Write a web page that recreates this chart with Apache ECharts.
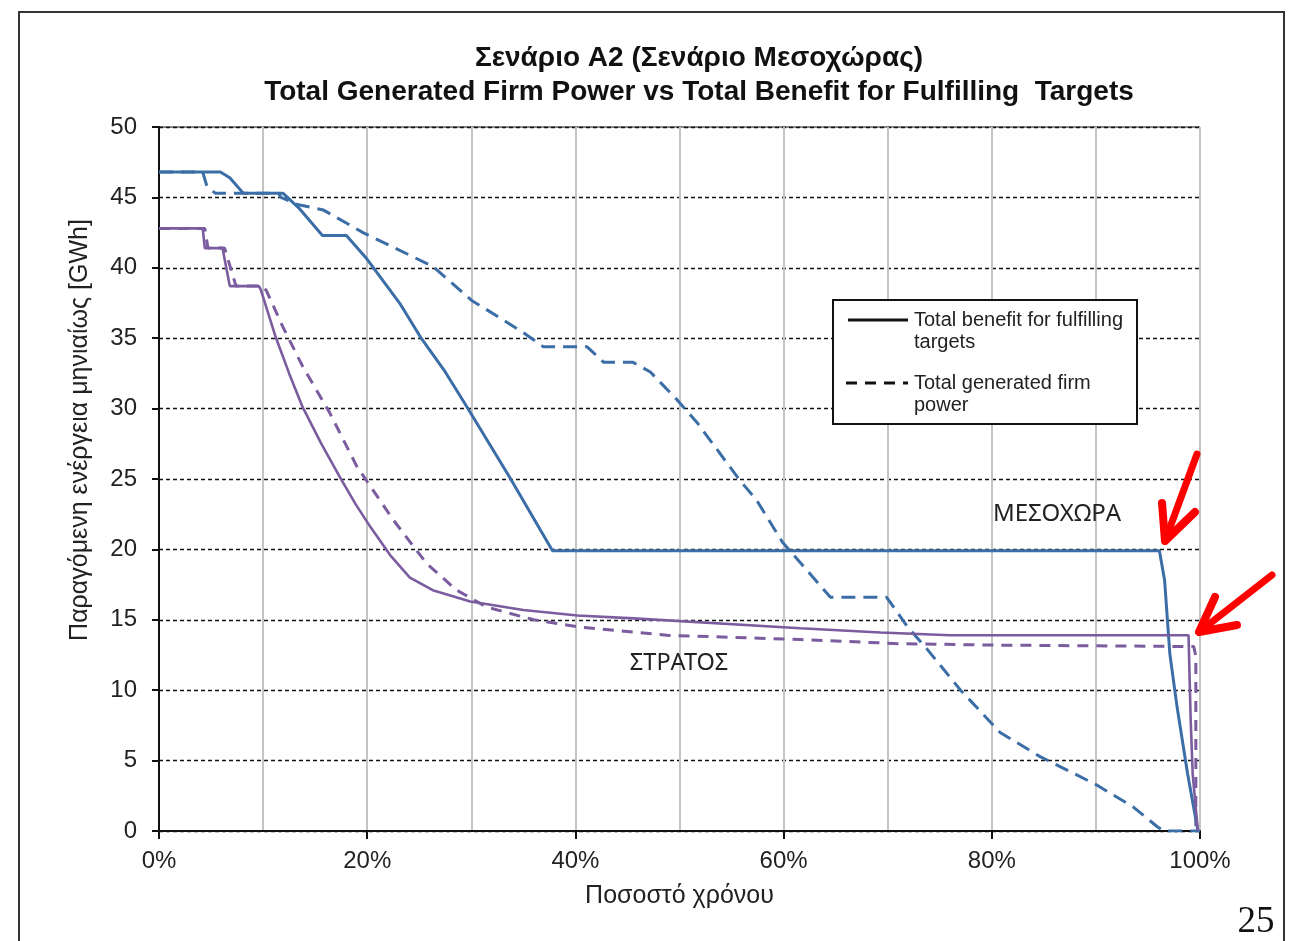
<!DOCTYPE html>
<html>
<head>
<meta charset="utf-8">
<title>Σενάριο Α2 (Σενάριο Μεσοχώρας)</title>
<script src="https://cdn.jsdelivr.net/npm/echarts@6/dist/echarts.min.js"></script>
<style>
  html, body { margin: 0; padding: 0; background: #fff; }
  #chart { width: 1293px; height: 941px; }
</style>
</head>
<body>
<div id="chart"></div>
<script>
// Duration curves: [share of time (%), monthly energy (GWh)]
const mesochoraBenefit = [
  [0, 46.8], [5.9, 46.8], [6.8, 46.4], [8.1, 45.3], [11.9, 45.3], [13.5, 44.2],
  [15.7, 42.3], [18.0, 42.3], [20.0, 40.6], [23.2, 37.4], [25.1, 35.1], [27.5, 32.6],
  [29.6, 30.1], [33.7, 25.1], [37.8, 19.9], [96.1, 19.9], [96.6, 17.8], [97.1, 12.6],
  [97.8, 8.8], [98.8, 4.1], [99.8, 0]
];
const mesochoraFirm = [
  [0, 46.8], [4.2, 46.8], [4.6, 45.8], [5.4, 45.3], [11.5, 45.3], [11.7, 45.0],
  [13.3, 44.5], [15.8, 44.1], [19.6, 42.5], [26.3, 40.1], [28.0, 39.0], [30.0, 37.7],
  [31.1, 37.2], [35.0, 35.4], [36.9, 34.4], [41.1, 34.4], [42.7, 33.3], [45.5, 33.3],
  [47.2, 32.6], [49.8, 30.6], [51.7, 29.0], [55.8, 24.9], [57.4, 23.5], [59.9, 20.5],
  [64.5, 16.6], [69.9, 16.6], [71.9, 14.5], [73.8, 12.9], [77.0, 10.0], [80.8, 7.0],
  [84.6, 5.3], [90.0, 3.3], [93.6, 1.7], [95.9, 0.3], [96.5, 0], [100, 0]
];
const stratosBenefit = [
  [0, 42.8], [4.2, 42.8], [4.4, 41.4], [6.1, 41.4], [6.8, 38.7], [9.6, 38.7],
  [9.8, 38.4], [11.2, 35.1], [12.5, 32.5], [13.8, 30.1], [15.6, 27.5], [17.4, 25.1],
  [18.9, 23.2], [20.3, 21.6], [22.2, 19.6], [24.1, 18.0], [26.3, 17.1], [29.9, 16.3],
  [35.0, 15.7], [40.2, 15.3], [45.6, 15.1], [61.6, 14.4], [69.3, 14.1],
  [76.0, 13.9], [98.9, 13.9], [99.1, 8.0], [99.3, 4.0], [99.8, 0]
];
const stratosFirm = [
  [0, 42.8], [4.4, 42.8], [4.7, 41.4], [6.3, 41.4], [7.4, 38.7], [9.9, 38.7],
  [10.3, 38.4], [11.9, 35.8], [13.8, 33.0], [16.4, 29.7], [19.0, 25.9], [22.5, 22.1],
  [25.7, 19.0], [28.6, 17.1], [31.5, 15.9], [36.0, 15.0], [40.2, 14.5], [48.8, 13.9],
  [61.6, 13.6], [71.2, 13.3], [80.8, 13.2], [99.4, 13.1], [99.6, 12.4], [99.6, 0]
];

const titleLines = ['Σενάριο Α2 (Σενάριο Μεσοχώρας)', 'Total Generated Firm Power vs Total Benefit for Fulfilling  Targets'];
const legendLabels = ['Total benefit for fulfilling\ntargets', 'Total generated firm\npower'];
const plantLabels = ['ΜΕΣΟΧΩΡΑ', 'ΣΤΡΑΤΟΣ'];
const yAxisTitle = 'Παραγόμενη ενέργεια μηνιαίως [GWh]';
const xAxisTitle = 'Ποσοστό χρόνου';

const BLUE = '#3b6ea6';
const PURPLE = '#7a5c9f';
const SANS = '"Liberation Sans", Arial, sans-serif';

const chart = echarts.init(document.getElementById('chart'), null, { renderer: 'canvas' });

function curve(name, data, color, dash, width) {
  return {
    name: name,
    type: 'line',
    data: data,
    showSymbol: false,
    symbol: 'none',
    smooth: false,
    lineStyle: { color: color, width: width, type: dash || 'solid' },
    z: dash ? 3 : 4,
    animation: false
  };
}

chart.setOption({
  backgroundColor: '#fff',
  animation: false,
  title: {
    text: titleLines.join('\n'),
    left: 694,
    top: 36,
    textAlign: 'center',
    textStyle: { fontFamily: SANS, fontWeight: 'bold', fontSize: 28, lineHeight: 34, color: '#111' }
  },
  grid: {
    left: 159, right: 93, top: 127, bottom: 110,
    show: true, borderColor: '#111', borderWidth: 1, backgroundColor: 'transparent'
  },
  xAxis: {
    type: 'value', min: 0, max: 100, interval: 20,
    name: xAxisTitle, nameLocation: 'middle', nameGap: 53,
    nameTextStyle: { fontFamily: SANS, fontSize: 25, color: '#222' },
    axisLine: { show: true, onZero: false, lineStyle: { color: '#111', width: 2 } },
    axisTick: { show: true, length: 8, lineStyle: { color: '#111', width: 2 } },
    axisLabel: { formatter: '{value}%', margin: 18, fontFamily: SANS, fontSize: 24, color: '#222' },
    splitLine: { show: true, lineStyle: { color: '#c4c4c4', width: 2 } },
    minorTick: { show: false, splitNumber: 2 },
    minorSplitLine: { show: true, lineStyle: { color: '#c4c4c4', width: 2 } }
  },
  yAxis: {
    type: 'value', min: 0, max: 50, interval: 5,
    axisLine: { show: true, lineStyle: { color: '#111', width: 2 } },
    axisTick: { show: true, length: 7, lineStyle: { color: '#111', width: 2 } },
    axisLabel: { margin: 22, fontFamily: SANS, fontSize: 24, color: '#222' },
    splitLine: { show: true, lineStyle: { color: '#111', width: 1.3, type: [4, 3] } }
  },
  series: [
    curve('Μεσοχώρα firm', mesochoraFirm, BLUE, [14, 8], 3),
    curve('Στράτος firm', stratosFirm, PURPLE, [11, 8], 3),
    curve('Μεσοχώρα benefit', mesochoraBenefit, BLUE, null, 3),
    curve('Στράτος benefit', stratosBenefit, PURPLE, null, 2.6)
  ],
  graphic: [
    // outer frame of the figure
    { type: 'rect', shape: { x: 19, y: 12, width: 1265, height: 960 },
      style: { fill: 'none', stroke: '#333', lineWidth: 2 }, z: 1 },
    // vertical axis title
    { type: 'text', x: 80, y: 430, rotation: Math.PI / 2, z: 11,
      style: { text: yAxisTitle, fontFamily: SANS, fontSize: 25, fill: '#222', align: 'center', verticalAlign: 'middle' } },
    // legend box
    { type: 'rect', shape: { x: 833, y: 300, width: 304, height: 124 },
      style: { fill: '#fff', stroke: '#111', lineWidth: 2 }, z: 10 },
    { type: 'line', shape: { x1: 848, y1: 320, x2: 908, y2: 320 },
      style: { stroke: '#111', lineWidth: 3 }, z: 11 },
    { type: 'line', shape: { x1: 846, y1: 383, x2: 908, y2: 383 },
      style: { stroke: '#111', lineWidth: 3, lineDash: [11, 8] }, z: 11 },
    { type: 'text', x: 914, y: 309, z: 11,
      style: { text: legendLabels[0], fontFamily: SANS, fontSize: 20, lineHeight: 22, fill: '#222', align: 'left', verticalAlign: 'top' } },
    { type: 'text', x: 914, y: 372, z: 11,
      style: { text: legendLabels[1], fontFamily: SANS, fontSize: 20, lineHeight: 22, fill: '#222', align: 'left', verticalAlign: 'top' } },
    // plant names
    { type: 'text', x: 1057, y: 514, z: 11,
      style: { text: plantLabels[0], fontFamily: '"Noto Sans", sans-serif', fontSize: 24, fill: '#222', align: 'center', verticalAlign: 'middle' } },
    { type: 'text', x: 679, y: 663, z: 11,
      style: { text: plantLabels[1], fontFamily: '"Noto Sans", sans-serif', fontSize: 23.5, fill: '#222', align: 'center', verticalAlign: 'middle' } },
    // red pointer arrows
    { type: 'polyline', shape: { points: [[1197, 454], [1165, 541]] },
      style: { stroke: '#f00', lineWidth: 7, lineCap: 'round', fill: 'none' }, z: 12 },
    { type: 'polyline', shape: { points: [[1162, 503], [1165, 541], [1195, 512]] },
      style: { stroke: '#f00', lineWidth: 8, lineCap: 'round', lineJoin: 'round', fill: 'none' }, z: 12 },
    { type: 'polyline', shape: { points: [[1272, 575], [1199, 632]] },
      style: { stroke: '#f00', lineWidth: 7, lineCap: 'round', fill: 'none' }, z: 12 },
    { type: 'polyline', shape: { points: [[1215, 597], [1199, 632], [1237, 625]] },
      style: { stroke: '#f00', lineWidth: 8, lineCap: 'round', lineJoin: 'round', fill: 'none' }, z: 12 },
    // page number
    { type: 'text', x: 1256, y: 941, z: 11,
      style: { text: '25', fontFamily: '"Liberation Serif", "DejaVu Serif", serif', fontSize: 37, fill: '#111', align: 'center', verticalAlign: 'bottom' } }
  ]
});
</script>
</body>
</html>
